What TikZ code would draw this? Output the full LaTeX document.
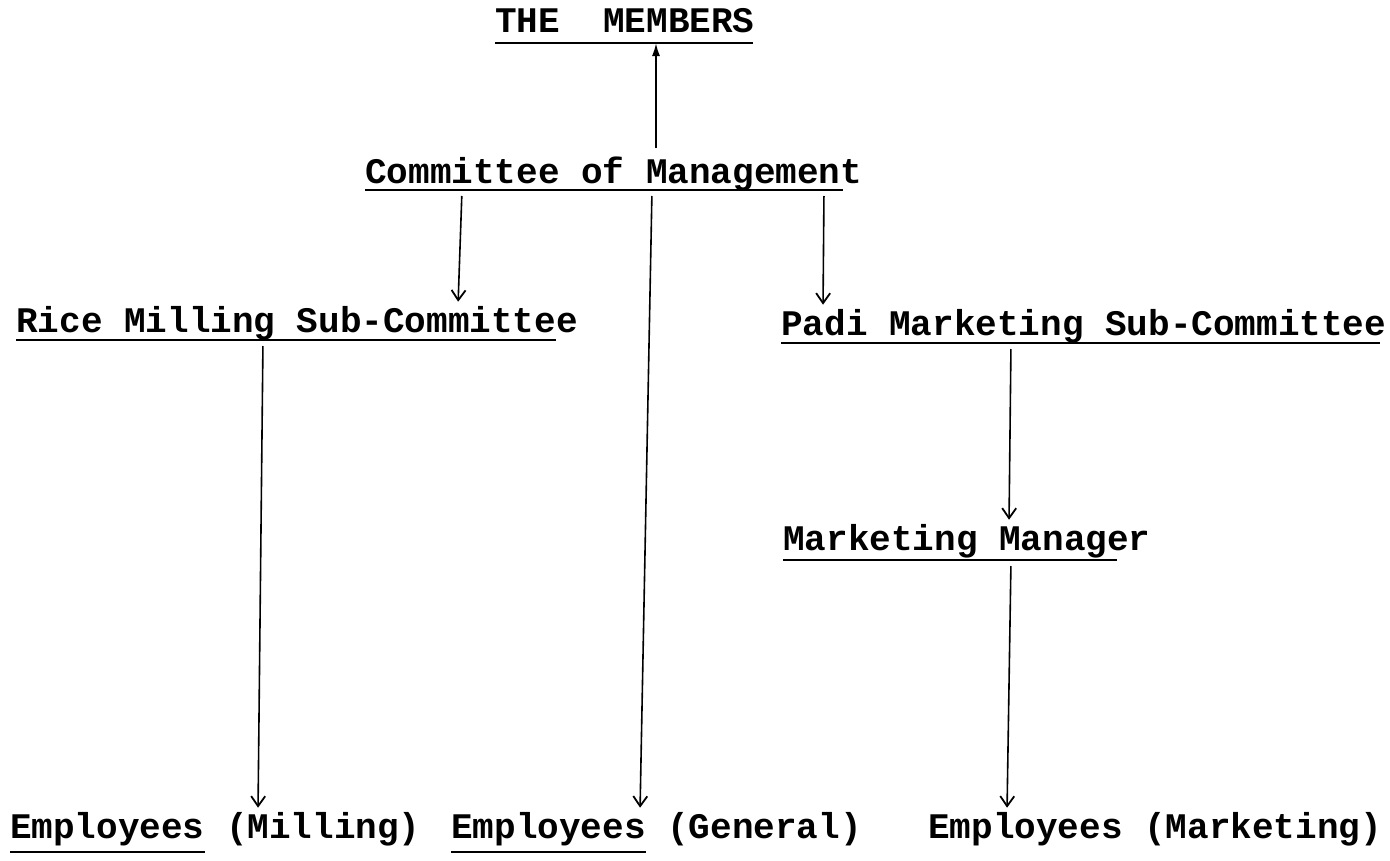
\documentclass[tikz,border=0pt]{standalone}
\usepackage{fontspec}
\usepackage{tikz}
\usetikzlibrary{arrows.meta}
\newfontfamily\typefont{Liberation Mono}
\tikzset{  typed/.style={anchor=base west,inner sep=0pt,font=\typefont\bfseries\fontsize{36}{40}\selectfont} }
\tikzset{  uline/.style={line width=2.2pt} }
\tikzset{  conn/.style={line width=1.6pt,shorten <=6pt,shorten >=4pt,-{Straight Barb[length=10pt,width=14pt,line width=1.8pt]}} }

\begin{document}
\begin{tikzpicture}[x=1pt,y=-1pt]
   \useasboundingbox (0,0) rectangle (1390,860);
   \node[typed] (mem) at (495,32) {THE\ \ MEMBERS};
   \node[typed] (com) at (365,183) {Committee of Management};
   \node[typed] (rice) at (16,332) {Rice Milling Sub-Committee};
   \node[typed] (padi) at (781,335) {Padi Marketing Sub-Committee};
   \node[typed] (mgr) at (783,550) {Marketing Manager};
   \node[typed] (empm) at (10,838) {Employees (Milling)};
   \node[typed] (empg) at (451,838) {Employees (General)};
   \node[typed] (empk) at (928,838) {Employees (Marketing)};
   % underlines
   \draw[uline] ([yshift=-11pt]mem.base west) coordinate (memU) -- ++(258,0);
   \draw[uline] ([yshift=-7pt]com.base west) coordinate (comU) -- ++(478,0);
   \draw[uline] ([yshift=-8pt]rice.base west) coordinate (riceU) -- ++(540,0);
   \draw[uline] ([yshift=-8pt]padi.base west) coordinate (padiU) -- ++(599,0);
   \draw[uline] ([yshift=-10pt]mgr.base west) coordinate (mgrU) -- ++(334,0);
   \draw[uline] ([yshift=-14pt]empm.base west) -- ++(195,0);
   \draw[uline] ([yshift=-14pt]empg.base west) -- ++(195,0);
   % connectors
   \draw[line width=1.8pt,shorten <=8pt,-{Latex[length=13pt,width=8pt]}] (656,0 |- com.north) -- (656,0 |- memU);
   \draw[conn] (462,0 |- comU) -- (458,0 |- rice.north);
   \draw[conn] (652,0 |- comU) -- (640,0 |- empg.north);
   \draw[conn] (824,0 |- comU) -- (823,0 |- padi.north);
   \draw[conn] (263,0 |- riceU) -- (258,0 |- empm.north);
   \draw[conn] (1011,0 |- padiU) -- (1009,0 |- mgr.north);
   \draw[conn] (1011,0 |- mgrU) -- (1007,0 |- empk.north);
\end{tikzpicture}
\end{document}
